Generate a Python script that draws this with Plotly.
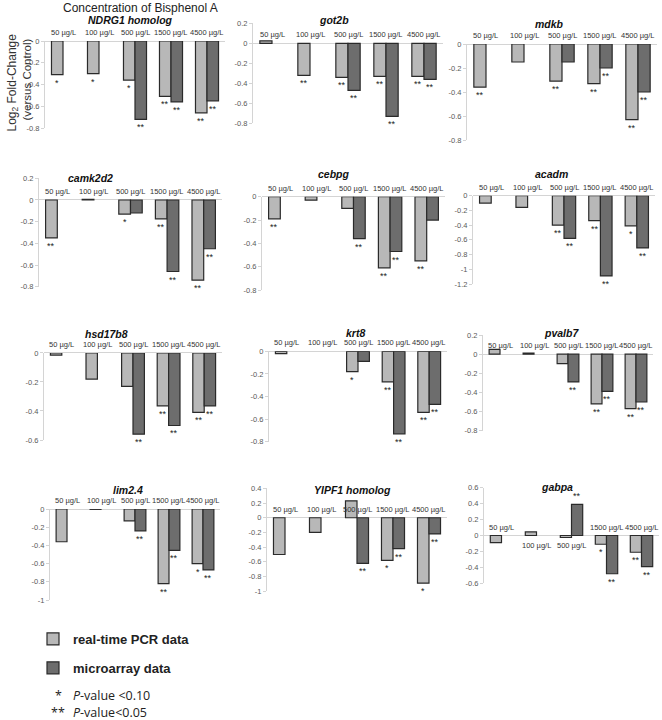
import numpy as np
import plotly.graph_objects as go

W, H = 662, 720

# ---------------- data ----------------
conc = ["50 µg/L", "100 µg/L", "500 µg/L", "1500 µg/L", "4500 µg/L"]
genes = ["NDRG1 homolog", "got2b", "mdkb", "camk2d2", "cebpg", "acadm",
         "hsd17b8", "krt8", "pvalb7", "lim2.4", "YIPF1 homolog", "gabpa"]

pcr_values = [
    [-0.31, -0.30, -0.36, -0.51, -0.66],     # NDRG1 homolog
    [0.025, -0.32, -0.34, -0.33, -0.33],     # got2b
    [-0.36, -0.15, -0.31, -0.33, -0.63],     # mdkb
    [-0.35, 0.005, -0.13, -0.175, -0.74],    # camk2d2
    [-0.19, -0.03, -0.10, -0.61, -0.55],     # cebpg
    [-0.10, -0.16, -0.40, -0.34, -0.41],     # acadm
    [-0.015, -0.18, -0.23, -0.365, -0.41],   # hsd17b8
    [-0.02, None, -0.18, -0.27, -0.54],      # krt8
    [0.05, 0.01, -0.10, -0.52, -0.57],       # pvalb7
    [-0.36, -0.004, -0.13, -0.82, -0.60],    # lim2.4
    [-0.50, -0.20, 0.23, -0.58, -0.89],      # YIPF1 homolog
    [-0.09, 0.045, -0.025, -0.11, -0.21],    # gabpa
]
micro_values = [
    [None, None, -0.72, -0.56, -0.55],
    [None, None, -0.47, -0.73, -0.36],
    [None, None, -0.15, -0.20, -0.40],
    [None, None, -0.12, -0.66, -0.45],
    [None, None, -0.36, -0.47, -0.20],
    [None, None, -0.58, -1.09, -0.71],
    [None, None, -0.56, -0.50, -0.365],
    [None, None, -0.09, -0.73, -0.47],
    [None, None, -0.29, -0.39, -0.50],
    [None, None, -0.24, -0.455, -0.67],
    [None, None, -0.62, -0.42, -0.22],
    [None, None, 0.39, -0.48, -0.39],
]
sig_pcr = [
    ["*", "*", "*", "**", "**"],
    ["", "**", "**", "**", "**"],
    ["**", "", "**", "**", "**"],
    ["**", "", "*", "**", "**"],
    ["**", "", "", "**", "**"],
    ["", "", "**", "**", "*"],
    ["", "", "", "**", "**"],
    ["", "", "*", "**", "**"],
    ["", "", "", "**", "**"],
    ["", "", "", "**", "*"],
    ["", "", "", "*", "*"],
    ["", "", "", "*", "**"],
]
sig_micro = [
    ["", "", "**", "**", "**"],
    ["", "", "**", "**", "**"],
    ["", "", "", "**", "**"],
    ["", "", "", "**", "**"],
    ["", "", "**", "**", ""],
    ["", "", "**", "**", "**"],
    ["", "", "**", "**", "**"],
    ["", "", "", "**", "**"],
    ["", "", "**", "**", "**"],
    ["", "", "**", "**", "**"],
    ["", "", "**", "**", "**"],
    ["", "", "**", "**", "**"],
]
y_ranges = [(-0.8, 0), (-0.8, 0.2), (-0.8, 0), (-0.8, 0.2), (-0.8, 0), (-1.2, 0),
            (-0.6, 0), (-0.8, 0), (-0.8, 0.2), (-1, 0), (-1, 0.4), (-0.6, 0.6)]

# ---------------- layout (pixels) ----------------
# x0, x1, y_top, y_bottom
panel_px = [
    (45, 225, 41, 128), (253, 443, 23.3, 123.3), (467, 657, 44, 140),
    (39, 222, 178.3, 286.7), (262, 445, 196.7, 290), (473, 655, 195.7, 284),
    (44, 222, 352.9, 440), (269, 447, 351.3, 441.7), (483, 653, 335, 430.7),
    (50, 220, 509, 600), (267, 447, 488.3, 591.3), (484, 659, 487.7, 583.3),
]
title_px = [(130, 20), (334, 20), (549, 24), (90, 178), (334, 174), (551, 174),
            (107, 334), (355, 333), (561, 333), (128, 490), (352, 490), (557, 487)]
labels_below = {(11, 1), (11, 2)}

LIGHT = "#b8b8b8"
DARK = "#6d6d6d"
EDGE = "#2a2a2a"
AXIS = "#d4d4d4"
FONT = "Liberation Sans, Arial, sans-serif"


def fx(x):
    return x / W


def fy(y):
    return 1 - y / H


def px(x, y):
    return dict(x=fx(x), y=fy(y), xref="paper", yref="paper",
                xanchor="center", yanchor="middle", showarrow=False)


fig = go.Figure()
ann = []
lay = {}
HALF = 0.16

for i, g in enumerate(genes):
    n = i + 1
    sfx = "" if n == 1 else str(n)
    xa, ya = "x" + sfx, "y" + sfx
    x0, x1, yt, yb = panel_px[i]
    lo, hi = y_ranges[i]
    fig.add_trace(go.Bar(
        x=conc, y=pcr_values[i], xaxis=xa, yaxis=ya,
        name="<b>real-time PCR data</b>", legendgroup="pcr", showlegend=(i == 0),
        marker=dict(color=LIGHT, line=dict(color=EDGE, width=1.2)),
        hoverinfo="skip"))
    fig.add_trace(go.Bar(
        x=conc, y=micro_values[i], xaxis=xa, yaxis=ya,
        name="<b>microarray data</b>", legendgroup="micro", showlegend=(i == 0),
        marker=dict(color=DARK, line=dict(color=EDGE, width=1.2)),
        hoverinfo="skip"))

    lay["xaxis" + sfx] = dict(
        domain=[fx(x0), min(fx(x1), 1)], anchor=ya, type="category",
        categoryorder="array", categoryarray=conc, range=[-0.5, 4.5],
        showticklabels=False, showgrid=False, zeroline=False, showline=False,
        ticks="", fixedrange=True, automargin=False)
    tv = [round(v, 1) + 0.0 for v in np.arange(lo, hi + 1e-9, 0.2)]
    lay["yaxis" + sfx] = dict(
        domain=[fy(yb), fy(yt)], anchor=xa, range=[lo, hi],
        tickvals=tv, ticktext=[f"{v:g}" for v in tv],
        showline=True, linecolor=AXIS, linewidth=1, ticks="outside", ticklen=3,
        tickcolor=AXIS, tickfont=dict(family=FONT, size=7.5, color="#595959"),
        showgrid=False, zeroline=True, zerolinecolor=AXIS, zerolinewidth=1,
        fixedrange=True, automargin=False)

    # gene title
    tx, ty = title_px[i]
    ann.append(dict(**px(tx, ty), text=f"<b><i>{g}</i></b>",
                    font=dict(family=FONT, size=10.5, color="#111")))
    # category labels
    for j, c in enumerate(conc):
        below = (i, j) in labels_below
        ann.append(dict(x=j, y=0, xref=xa, yref=ya, text=c, showarrow=False,
                        xanchor="center",
                        yanchor="top" if below else "bottom",
                        yshift=-3 if below else 2,
                        font=dict(family=FONT, size=7.5, color="#333")))
    # significance marks
    for vals, sig, off in ((pcr_values[i], sig_pcr[i], -HALF),
                           (micro_values[i], sig_micro[i], HALF)):
        for j, (v, s) in enumerate(zip(vals, sig)):
            if s and v is not None:
                ann.append(dict(x=j + off, y=v, xref=xa, yref=ya, text=s,
                                showarrow=False, xanchor="center",
                                yanchor="bottom" if v > 0 else "top",
                                yshift=1 if v > 0 else -1,
                                font=dict(family=FONT, size=9, color="#222")))

# overall texts
ann.append(dict(**px(140, 8), text="Concentration of Bisphenol A",
                font=dict(family=FONT, size=12, color="#222")))
ann.append(dict(**px(12.5, 83), text="Log<sub>2</sub> Fold-Change", textangle=-90,
                font=dict(family=FONT, size=12, color="#333")))
ann.append(dict(**px(26.5, 80), text="(versus Control)", textangle=-90,
                font=dict(family=FONT, size=11.5, color="#333")))
# p-value notes
PF = "Open Sans, Noto Sans, sans-serif"
notes = [("*", "<i>P</i>-value &lt;0.10", 695), ("**", "<i>P</i>-value&lt;0.05", 712)]
for star, txt, yy in notes:
    ann.append(dict(**px(58, yy), text=star,
                    font=dict(family=PF, size=12.5, color="#222")))
    a = dict(**px(71, yy), text=txt, font=dict(family=PF, size=12.5, color="#222"))
    a["xanchor"] = "left"
    ann.append(a)

fig.update_layout(
    template="none",
    width=W, height=H, margin=dict(l=0, r=0, t=0, b=0, pad=0, autoexpand=False),
    paper_bgcolor="white", plot_bgcolor="white",
    barmode="group", bargap=0.36, bargroupgap=0,
    annotations=ann,
    legend=dict(x=fx(33), y=fy(624), xanchor="left", yanchor="top",
                font=dict(family=FONT, size=13, color="#222"),
                tracegroupgap=9, bgcolor="rgba(0,0,0,0)", borderwidth=0),
    **lay)

# the page body default margin (8px) would push the figure off the window
fig.write_html("out.html", config={"displayModeBar": False, "staticPlot": True},
               post_script="document.body.style.margin='0px';")
